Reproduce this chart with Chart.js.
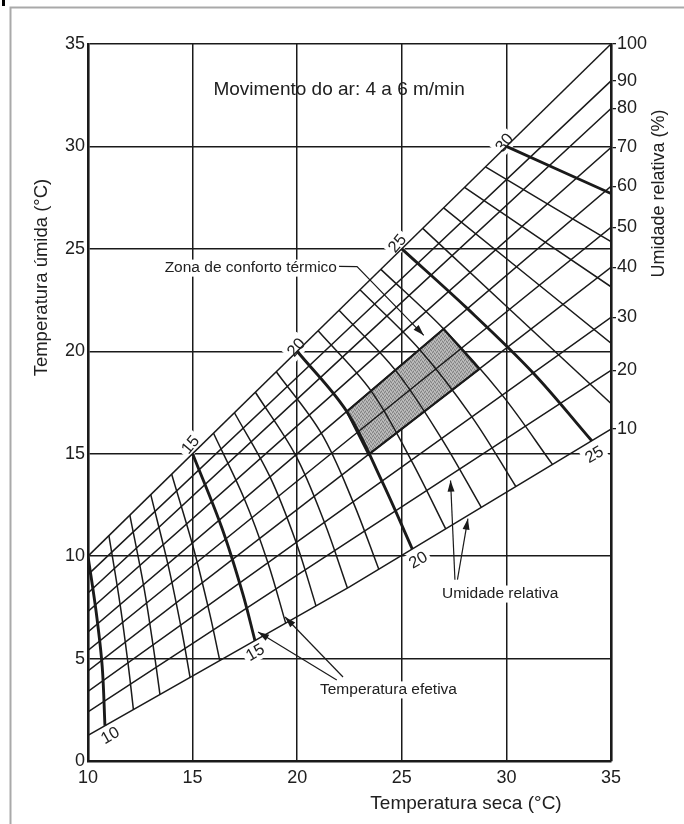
<!DOCTYPE html>
<html><head><meta charset="utf-8">
<script src="https://cdn.jsdelivr.net/npm/chart.js@4.4.1/dist/chart.umd.min.js"></script>
<style>html,body{margin:0;padding:0;background:#fff;}canvas{display:block;}</style>
</head><body>
<canvas id="c" width="684" height="824"></canvas>
<script>
// ---- data ----
const dryTicks = [10, 15, 20, 25, 30, 35];
const wetTicks = [0, 5, 10, 15, 20, 25, 30, 35];
const rhLabels = [100, 90, 80, 70, 60, 50, 40, 30, 20, 10];
const rhDry = [10, 22.5, 35];
const rhWetLeft  = [10, 9.1, 8.2, 7.3, 6.3, 5.4, 4.4, 3.4, 2.4, 1.25];
const rhWetMid   = [22.5, 21.15, 20.03, 18.63, 17.18, 15.73, 14.25, 12.53, 10.74, 8.5];
const rhWetRight = [35, 33.2, 31.85, 29.95, 28.05, 26.05, 24.1, 21.66, 19.07, 16.2];
const etValues = [10,11,12,13,14,15,16,17,18,19,20,21,22,23,24,25,26,27,28,29,30];
const etMidDry = [10.40,11.54,12.67,13.86,15.05,16.41,17.47,18.70,19.92,21.15,22.37,23.53,24.69,25.85,27.00,28.14,null,null,null,null,null];
const etMidWet = [7.20,7.60,8.50,9.43,10.36,11.35,12.80,13.87,14.93,16.00,17.06,18.07,19.08,20.09,21.09,22.08,null,null,null,null,null];
const etLowDry = [10.68,11.93,13.14,14.49,15.82,17.40,18.60,19.95,21.30,22.67,24.05,25.45,26.90,28.35,29.80,31.28,null,null,null,null,null];
const etLowWet = [4.60,4.63,5.44,6.31,7.18,8.16,9.68,10.67,11.65,12.65,13.66,14.68,15.74,16.80,17.86,18.94,null,null,null,null,null];
const etEndDry = [10.81,12.17,13.44,14.88,16.30,17.98,19.45,20.90,22.40,23.90,25.50,27.10,28.80,30.45,32.20,34.08,35,35,35,35,35];
const etEndWet = [1.72,2.51,3.25,4.08,4.90,5.88,6.73,7.57,8.44,9.36,10.35,11.33,12.38,13.40,14.48,15.63,17.45,20.4,23.15,25.35,27.7];
const comfortDry = [22.37, 27.0, 28.7, 23.41];
const comfortWet = [17.06, 21.09, 19.13, 14.96];

// ---- styling / annotation layout ----
const FONT = "'Liberation Sans', Arial, Helvetica, sans-serif";
const INK = '#1a1a1a';
const TXT = '#202020';

function rhPoints(i){ const w=[rhWetLeft,rhWetMid,rhWetRight]; return rhDry.map((d,k)=>({x:d,y:w[k][i]})); }
function etPoints(i){
  const p=[{x:etValues[i],y:etValues[i]}];
  if(etMidDry[i]!==null) p.push({x:etMidDry[i],y:etMidWet[i]});
  if(etLowDry[i]!==null) p.push({x:etLowDry[i],y:etLowWet[i]});
  p.push({x:etEndDry[i],y:etEndWet[i]});
  return p;
}
const comfortPts = comfortDry.map((d,i)=>({x:d,y:comfortWet[i]})); comfortPts.push({x:comfortDry[0],y:comfortWet[0]});

const pat=(()=>{const p=document.createElement('canvas');p.width=4;p.height=4;const g=p.getContext('2d');
 g.fillStyle='#a9a9a9';g.fillRect(0,0,4,4);
 g.fillStyle='#828282';[[0,0],[2,1],[1,3],[3,2]].forEach(q=>g.fillRect(q[0],q[1],1,1));
 g.fillStyle='#c2c2c2';[[1,1],[3,0],[0,2],[2,3]].forEach(q=>g.fillRect(q[0],q[1],1,1));
 return g.createPattern(p,'repeat');})();

const datasets=[];
etValues.forEach((v,i)=>datasets.push({data:etPoints(i),showLine:true,borderColor:INK,borderWidth:v%5===0?2.9:1.5,pointRadius:0,tension:0.35,fill:false}));
rhLabels.forEach((r,i)=>datasets.push({data:rhPoints(i),showLine:true,borderColor:INK,borderWidth:1.5,pointRadius:0,tension:0,fill:false}));
datasets.push({data:comfortPts,showLine:true,borderColor:INK,borderWidth:2.2,backgroundColor:pat,fill:'shape',pointRadius:0,tension:0});

const notes = {
  top:{text:['15','20','25','30'],at:[[14.88,15.45],[19.94,20.2],[24.77,25.28],[29.89,30.19]],angle:-50,size:16.5},
  bottom:{text:['10','15','20','25'],at:[[11.05,1.27],[17.98,5.32],[25.77,9.83],[34.19,14.98]],angle:-30,size:16.5},
  texts:[
    {t:'Movimento do ar: 4 a 6 m/min',at:[22.0,32.75],size:19,align:'center',mask:false},
    {t:'Zona de conforto térmico',at:[21.9,24.06],size:15.5,align:'right',mask:true},
    {t:'Umidade relativa',at:[26.92,8.15],size:15.5,align:'left',mask:true},
    {t:'Temperatura efetiva',at:[21.09,3.47],size:15.5,align:'left',mask:true}
  ],
  leader:[[22.0,24.14],[22.86,24.13],[26.05,20.78]],
  arrows:[[[27.54,8.85],[27.33,13.69]],[[27.66,8.85],[28.16,11.83]],[[21.89,3.95],[18.13,6.30]],[[22.19,4.1],[19.42,7.03]]]
};

function P(chart,d,w){return [chart.scales.x.getPixelForValue(d),chart.scales.y.getPixelForValue(w)];}
function head(c,x1,y1,x2,y2){
  const a=Math.atan2(y2-y1,x2-x1),L=11,W=3.5;
  c.beginPath();c.moveTo(x2,y2);
  c.lineTo(x2-L*Math.cos(a)+W*Math.sin(a),y2-L*Math.sin(a)-W*Math.cos(a));
  c.lineTo(x2-L*Math.cos(a)-W*Math.sin(a),y2-L*Math.sin(a)+W*Math.cos(a));
  c.closePath();c.fill();
}
function rotLabel(c,chart,set,maskOnly){
  set.text.forEach((t,i)=>{
    const [x,y]=P(chart,set.at[i][0],set.at[i][1]);
    c.save();c.translate(x,y);c.rotate(set.angle*Math.PI/180);
    c.font=set.size+'px '+FONT;
    const w=c.measureText(t).width,h=set.size*0.78;
    if(maskOnly){c.fillStyle='#fff';c.fillRect(-w/2-3,-h/2-3,w+6,h+6);}
    else{c.fillStyle=TXT;c.textAlign='center';c.textBaseline='middle';c.fillText(t,0,1);}
    c.restore();
  });
}
const deco={
  id:'deco',
  beforeDraw(chart){
    const c=chart.ctx;c.save();c.fillStyle='#fff';c.fillRect(0,0,chart.width,chart.height);
    c.strokeStyle='#a9a9a9';c.lineWidth=2;c.beginPath();c.moveTo(10.5,824);c.lineTo(10.5,7.5);c.lineTo(684,7.5);c.stroke();
    c.fillStyle='#000';c.fillRect(2,0,3,6);c.restore();
  },
  beforeDatasetsDraw(chart){
    const c=chart.ctx;c.save();
    rotLabel(c,chart,notes.top,true);rotLabel(c,chart,notes.bottom,true);
    notes.texts.forEach(o=>{ if(!o.mask) return;
      const [x,y]=P(chart,o.at[0],o.at[1]);c.font=o.size+'px '+FONT;
      const w=c.measureText(o.t).width;let x0=o.align==='left'?x:o.align==='right'?x-w:x-w/2;
      c.fillStyle='#fff';c.fillRect(x0-2,y-o.size*0.55,w+4,o.size*1.1);
    });
    c.restore();
  },
  afterDatasetsDraw(chart){
    const c=chart.ctx;c.save();
    rotLabel(c,chart,notes.top,false);rotLabel(c,chart,notes.bottom,false);
    notes.texts.forEach(o=>{const [x,y]=P(chart,o.at[0],o.at[1]);c.font=o.size+'px '+FONT;c.fillStyle=TXT;c.textAlign=o.align;c.textBaseline='middle';c.fillText(o.t,x,y);});
    c.strokeStyle=INK;c.fillStyle=INK;c.lineWidth=1.2;
    const lp=notes.leader.map(p=>P(chart,p[0],p[1]));
    c.beginPath();c.moveTo(lp[0][0],lp[0][1]);for(let i=1;i<lp.length;i++)c.lineTo(lp[i][0],lp[i][1]);c.stroke();
    head(c,lp[1][0],lp[1][1],lp[2][0],lp[2][1]);
    notes.arrows.forEach(a=>{const [x1,y1]=P(chart,a[0][0],a[0][1]),[x2,y2]=P(chart,a[1][0],a[1][1]);
      c.beginPath();c.moveTo(x1,y1);c.lineTo(x2,y2);c.stroke();head(c,x1,y1,x2,y2);});
    c.restore();
  },
  afterDraw(chart){
    const c=chart.ctx,a=chart.chartArea,ys=chart.scales.y,xs=chart.scales.x;c.save();c.fillStyle=TXT;c.textAlign='center';c.textBaseline='middle';
    c.font='18.5px '+FONT;
    c.save();c.translate(a.left-46,ys.getPixelForValue(23.6));c.rotate(-Math.PI/2);c.fillText('Temperatura úmida (°C)',0,0);c.restore();
    c.save();c.translate(a.right+48,ys.getPixelForValue(27.7));c.rotate(-Math.PI/2);c.font='18px '+FONT;c.fillText('Umidade relativa (%)',0,0);c.restore();
    c.font='19px '+FONT;c.fillText('Temperatura seca (°C)',xs.getPixelForValue(28.07),a.bottom+43);
    c.restore();
  }
};

const gridStyle={color:INK,lineWidth:1.5,drawTicks:false};
new Chart(document.getElementById('c'),{
  type:'scatter',
  data:{datasets},
  options:{
    responsive:false,animation:false,devicePixelRatio:1,
    layout:{padding:{top:44,left:0,right:0,bottom:0}},
    plugins:{legend:{display:false},tooltip:{enabled:false}},
    scales:{
      x:{type:'linear',min:10,max:35,afterBuildTicks:s=>{s.ticks=dryTicks.map(v=>({value:v}));},
         grid:gridStyle,border:{display:true,color:INK,width:2.6},
         ticks:{font:{family:FONT,size:18},color:TXT,padding:6,autoSkip:false},afterFit:s=>{s.height=63;}},
      y:{type:'linear',position:'left',min:0,max:35,afterBuildTicks:s=>{s.ticks=wetTicks.map(v=>({value:v}));},
         grid:gridStyle,border:{display:true,color:INK,width:2.6},
         ticks:{font:{family:FONT,size:18},color:TXT,padding:3,autoSkip:false},afterFit:s=>{s.width=88;}},
      y2:{type:'linear',position:'right',min:0,max:35,afterBuildTicks:s=>{s.ticks=rhWetRight.map(v=>({value:v}));},
         grid:{drawOnChartArea:false,drawTicks:true,tickLength:5,color:INK,lineWidth:1.3},border:{display:true,color:INK,width:2.6},
         ticks:{font:{family:FONT,size:18},color:TXT,padding:1,autoSkip:false,callback:(v,i)=>String(rhLabels[i])},afterFit:s=>{s.width=73;}}
    }
  },
  plugins:[deco]
});
</script>
</body></html>
